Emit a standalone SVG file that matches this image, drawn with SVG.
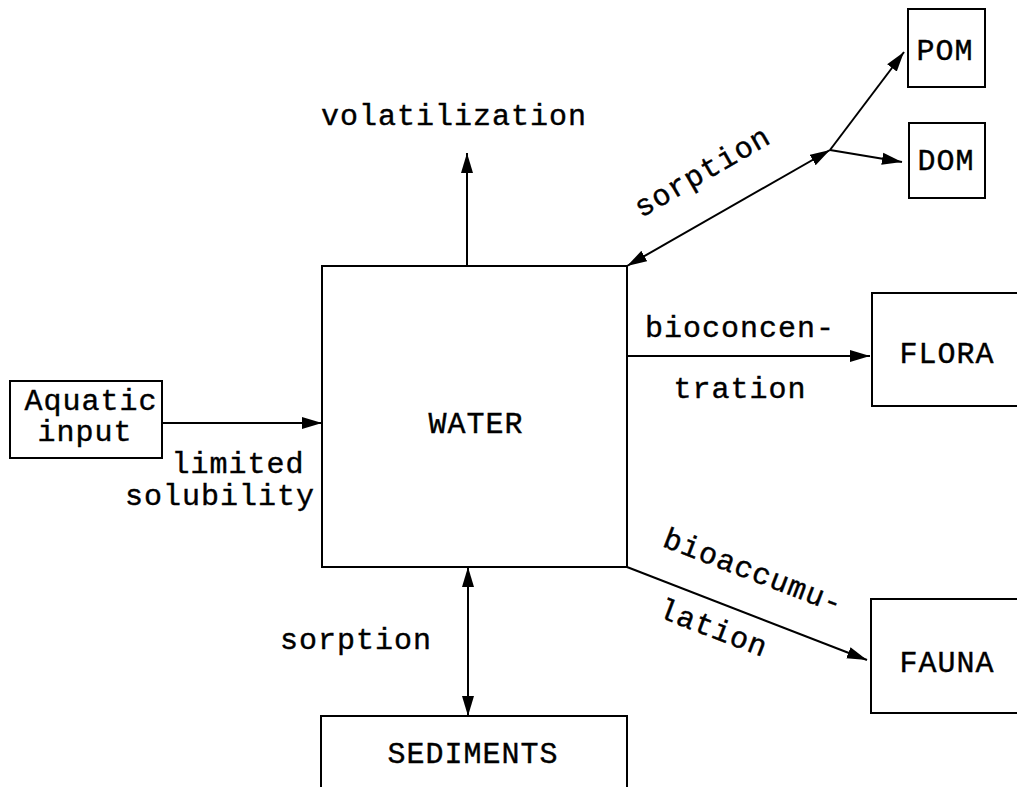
<svg xmlns="http://www.w3.org/2000/svg" width="1017" height="787" viewBox="0 0 1017 787">
<style>
.box{fill:none;stroke:#000;stroke-width:2}
.ln{fill:none;stroke:#000;stroke-width:2}
text{font-family:"Liberation Mono","Courier New",monospace;font-size:30px;fill:#000;letter-spacing:1px;text-anchor:middle;stroke:#000;stroke-width:0.4}
</style>
<defs>
<marker id="ah" viewBox="0 0 20 14" refX="20" refY="7" markerWidth="20" markerHeight="14" markerUnits="userSpaceOnUse" orient="auto-start-reverse">
<path d="M0,1 L20,7 L0,13 z" fill="#000"/>
</marker>
</defs>
<rect width="1017" height="787" fill="#fff"/>
<g id="water"><rect class="box" x="322" y="266" width="305" height="301"/><text x="476" y="433">WATER</text></g>
<g id="aquatic"><rect class="box" x="10" y="381" width="152" height="77"/><text x="91" y="410">Aquatic</text><text x="85" y="441">input</text></g>
<g id="sediments"><rect class="box" x="321" y="716" width="306" height="90"/><text x="473" y="763">SEDIMENTS</text></g>
<g id="flora"><rect class="box" x="872" y="293" width="160" height="113"/><text x="947" y="363">FLORA</text></g>
<g id="fauna"><rect class="box" x="871" y="599" width="160" height="114"/><text x="947" y="672">FAUNA</text></g>
<g id="pom"><rect class="box" x="908" y="9" width="77" height="78"/><text x="945" y="60">POM</text></g>
<g id="dom"><rect class="box" x="909" y="123" width="76" height="75"/><text x="946" y="170">DOM</text></g>
<g id="connectors">
<path class="ln" d="M162,423 L322,423" marker-end="url(#ah)"/>
<path class="ln" d="M467,266 L467,153" marker-end="url(#ah)"/>
<path class="ln" d="M468,567 L468,716" marker-start="url(#ah)" marker-end="url(#ah)"/>
<path class="ln" d="M627,356 L870,356" marker-end="url(#ah)"/>
<path class="ln" d="M627,567 L867,660" marker-end="url(#ah)"/>
<path class="ln" d="M627,266 L830,150" marker-start="url(#ah)" marker-end="url(#ah)"/>
<path class="ln" d="M830,150 L904,52" marker-end="url(#ah)"/>
<path class="ln" d="M830,150 L902,162" marker-end="url(#ah)"/>
</g>
<g id="labels">
<text x="454" y="125">volatilization</text>
<text x="238" y="473">limited</text>
<text x="220" y="505">solubility</text>
<text x="356" y="649">sorption</text>
<text x="740" y="337">bioconcen-</text>
<text x="740" y="398">tration</text>
<text transform="translate(707,180) rotate(-30)">sorption</text>
<text transform="translate(750,580) rotate(21)">bioaccumu-</text>
<text transform="translate(710,637) rotate(21)">lation</text>
</g>
</svg>
